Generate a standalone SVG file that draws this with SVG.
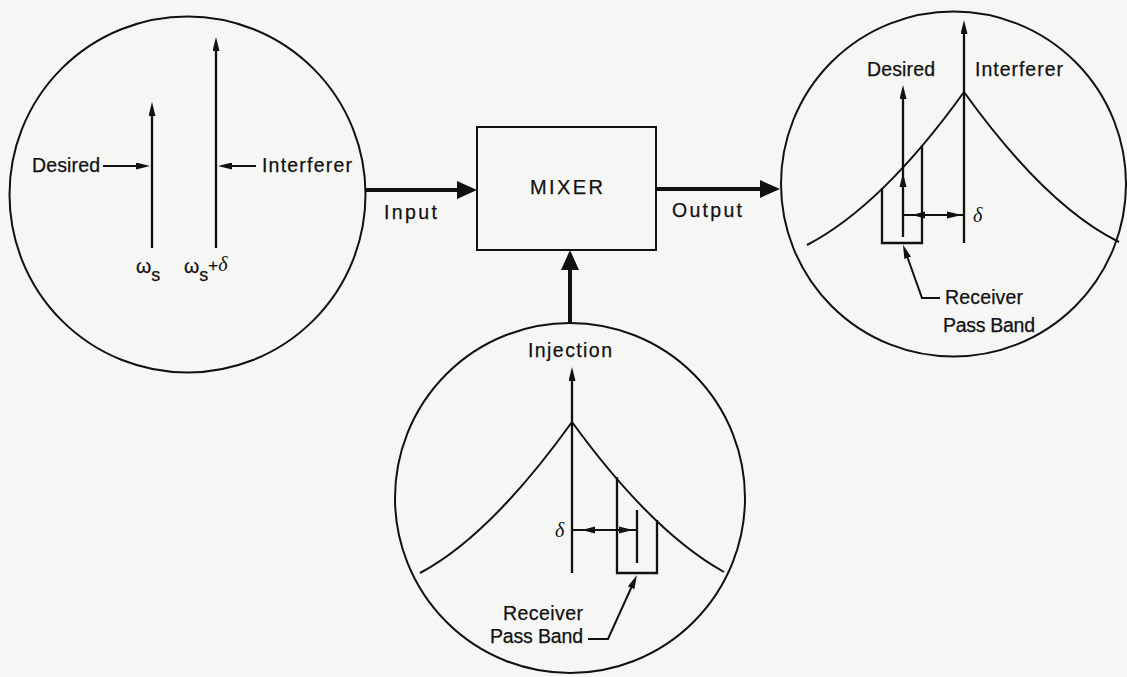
<svg xmlns="http://www.w3.org/2000/svg" width="1127" height="677" viewBox="0 0 1127 677">
<style>
.ln{stroke:#111;stroke-width:2;fill:none}
.lt{stroke:#111;stroke-width:2.3;fill:none}
.ck{stroke:#111;stroke-width:4;fill:none}
.hd{fill:#111;stroke:none}
.t{font-family:"Liberation Sans",Arial,sans-serif;font-size:19.5px;fill:#111;stroke:#111;stroke-width:0.25}
.tb{font-family:"Liberation Sans",Arial,sans-serif;font-size:20px;fill:#111;stroke:#111;stroke-width:0.25}
.d{font-family:"Liberation Serif","Times New Roman",serif;font-style:italic;font-size:20px;fill:#111}
</style>
<defs>
<marker id="thin" markerUnits="userSpaceOnUse" markerWidth="14" markerHeight="7" refX="2" refY="3.5" orient="auto">
<path d="M0,0 L14,3.5 L0,7 z" fill="#111"/>
</marker>
<marker id="thick" markerUnits="userSpaceOnUse" markerWidth="20" markerHeight="18" refX="2" refY="9" orient="auto">
<path d="M0,0 L20,9 L0,18 z" fill="#111"/>
</marker>
</defs>
<rect x="0" y="0" width="1127" height="677" fill="#f6f6f4"/>

<g id="input-spectrum">
<circle class="ln" cx="187.5" cy="194.5" r="178"/>
<line class="lt" x1="152" y1="248" x2="152" y2="114" marker-end="url(#thin)"/>
<line class="lt" x1="216" y1="248" x2="216" y2="49" marker-end="url(#thin)"/>
<line class="ln" x1="103" y1="166" x2="138" y2="166" marker-end="url(#thin)"/>
<line class="ln" x1="256" y1="166" x2="230" y2="166" marker-end="url(#thin)"/>
<text class="t" x="32" y="172" textLength="68" lengthAdjust="spacing">Desired</text>
<text class="t" x="262" y="172" textLength="90" lengthAdjust="spacing">Interferer</text>
<text class="t" x="136" y="273" font-size="25">ω<tspan font-size="18" dy="8">s</tspan></text>
<text class="t" x="184" y="273" font-size="25">ω<tspan font-size="18" dy="8">s</tspan><tspan font-size="17" dy="-10">+</tspan><tspan class="d" font-size="18" stroke="none">δ</tspan></text>
</g>

<g id="mixer">
<rect class="ln" x="477" y="127" width="179" height="123"/>
<text class="tb" x="530" y="194" textLength="73" lengthAdjust="spacing">MIXER</text>
</g>

<g id="output-spectrum">
<circle class="ln" cx="953.5" cy="184" r="172.5"/>
<line class="lt" x1="964" y1="243" x2="964" y2="32" marker-end="url(#thin)"/>
<line class="lt" x1="903" y1="237" x2="903" y2="97" marker-end="url(#thin)"/>
<path class="hd" d="M903,173 L906.5,187 L899.5,187 z"/>
<path class="ln" d="M807,245 Q882,206 964,92 Q1046,206 1119,242"/>
<path class="lt" d="M882,188 V243 H922 V145"/>
<line class="ln" x1="903" y1="215" x2="964" y2="215"/>
<path class="hd" d="M962,215 L947,211.5 L947,218.5 z"/>
<path class="hd" d="M912,215 L925,211.5 L925,218.5 z"/>
<text class="d" x="973" y="222">δ</text>
<polyline class="ln" points="940,298 922,298 907,256" marker-end="url(#thin)"/>
<text class="t" x="867" y="76" textLength="68" lengthAdjust="spacing">Desired</text>
<text class="t" x="975" y="76" textLength="88" lengthAdjust="spacing">Interferer</text>
<text class="t" x="945" y="304" textLength="78" lengthAdjust="spacing">Receiver</text>
<text class="t" x="943" y="332" textLength="92" lengthAdjust="spacing">Pass Band</text>
</g>

<g id="injection-spectrum">
<circle class="ln" cx="570" cy="498" r="175"/>
<line class="lt" x1="572" y1="573" x2="572" y2="379" marker-end="url(#thin)"/>
<path class="ln" d="M420,573 Q490,536 572,422 Q652,532 724,572"/>
<path class="lt" d="M617,477 V573 H657 V520"/>
<line class="lt" x1="637" y1="510" x2="637" y2="563"/>
<line class="ln" x1="573" y1="530" x2="637" y2="530"/>
<path class="hd" d="M582,530 L595,526.5 L595,533.5 z"/>
<path class="hd" d="M633,530 L619,526.5 L619,533.5 z"/>
<text class="d" x="555" y="537">δ</text>
<polyline class="ln" points="588,639 608,639 632,586" marker-end="url(#thin)"/>
<text class="t" x="528" y="357" textLength="84" lengthAdjust="spacing">Injection</text>
<text class="t" x="503" y="620" textLength="80" lengthAdjust="spacing">Receiver</text>
<text class="t" x="490" y="643" textLength="93" lengthAdjust="spacing">Pass Band</text>
</g>

<g id="connectors">
<line class="ck" x1="366" y1="190" x2="459" y2="190" marker-end="url(#thick)"/>
<line class="ck" x1="656" y1="189" x2="762" y2="189" marker-end="url(#thick)"/>
<line class="ck" x1="570" y1="323" x2="570" y2="268" marker-end="url(#thick)"/>
<text class="t" x="384" y="219" textLength="53" lengthAdjust="spacing">Input</text>
<text class="t" x="672" y="217" textLength="70" lengthAdjust="spacing">Output</text>
</g>
</svg>
